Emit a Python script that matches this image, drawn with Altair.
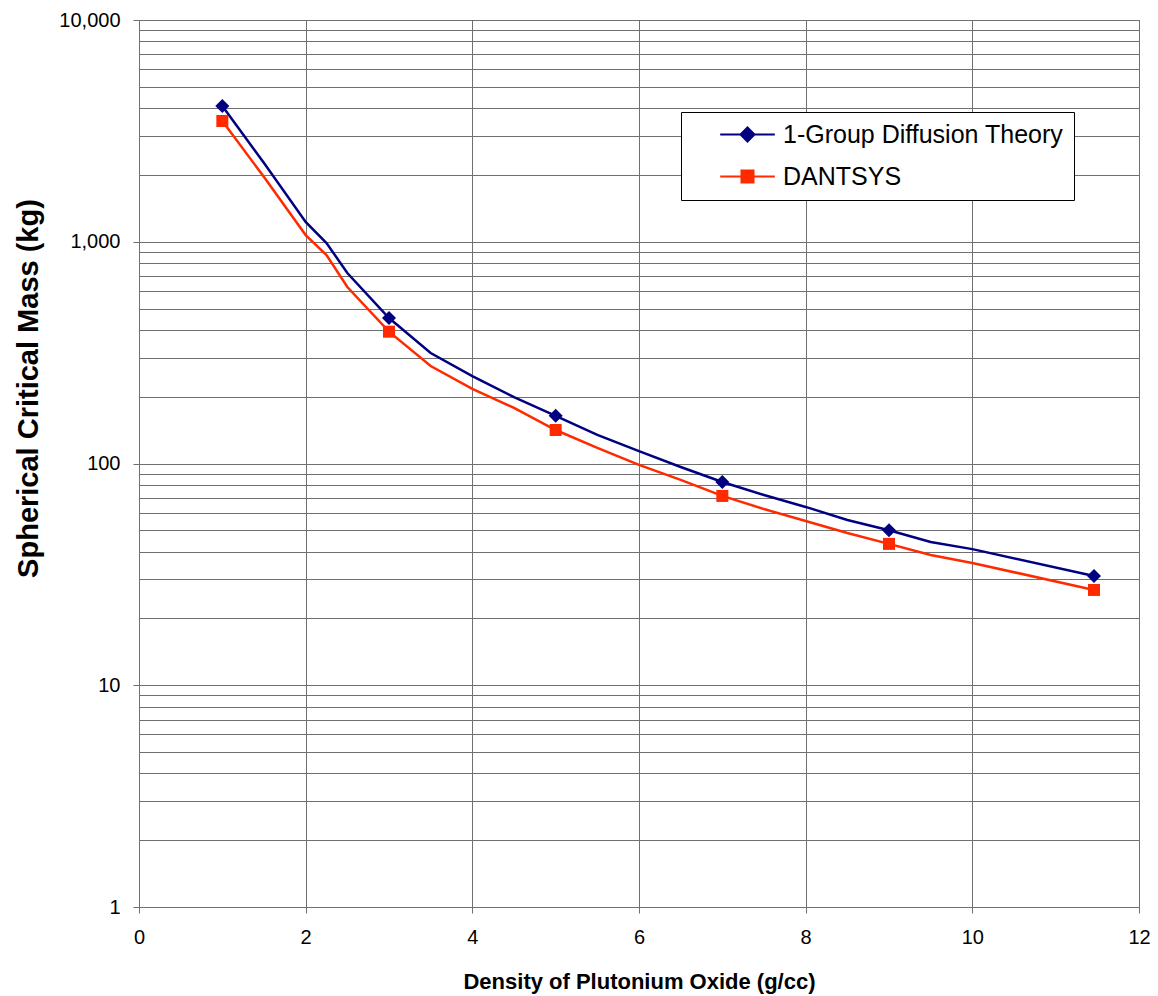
import altair as alt
import pandas as pd

# ---- data ----
series_names = ["1-Group Diffusion Theory", "DANTSYS"]
series_colors = ["#000080", "#ff2a00"]

marker_density = [1, 3, 5, 7, 9, 11.46]
marker_diffusion = [4090, 453, 164, 82.5, 50, 31.1]
marker_dantsys = [3504, 393, 141.6, 71.4, 43.4, 26.9]

line_density = [1, 1.5, 2, 2.25, 2.5, 3, 3.5, 4, 4.5, 5, 5.5, 6, 6.5, 7,
                7.5, 8, 8.5, 9, 9.5, 10, 11.46]
line_diffusion = [4090, 2265, 1228, 987, 723, 453, 315, 248, 199, 164, 134.5,
                  113.8, 96.4, 82.5, 72.1, 63.7, 55.6, 50, 44.3, 41.1, 31.1]
line_dantsys = [3504, 1959, 1072, 871, 625, 393, 275, 217, 178, 141.6, 117.5,
                98.5, 84.3, 71.4, 62.3, 55, 48.6, 43.4, 38.7, 35.6, 26.9]

x_ticks = [0, 2, 4, 6, 8, 10, 12]
y_major = [1, 10, 100, 1000, 10000]
y_grid = [m * 10 ** k for k in range(4) for m in range(1, 10)] + [10000]

FONT = "Liberation Sans"

line_df = pd.DataFrame({
    "density": line_density * 2,
    "mass": line_diffusion + line_dantsys,
    "series": [series_names[0]] * len(line_density) + [series_names[1]] * len(line_density),
})
marker_df = pd.DataFrame({
    "density": marker_density * 2,
    "mass": marker_diffusion + marker_dantsys,
    "series": [series_names[0]] * len(marker_density) + [series_names[1]] * len(marker_density),
})

major_test = f"indexof({y_major}, datum.value) >= 0"

x_enc = alt.X(
    "density:Q",
    scale=alt.Scale(domain=[0, 12], nice=False),
    axis=alt.Axis(
        values=x_ticks, format="d", labelFlush=False, labelFontSize=20,
        labelFont=FONT, labelColor="black", labelPadding=14, tickSize=6,
        tickColor="#707070", domainColor="#707070", grid=True,
        gridColor="#707070", gridWidth=1,
        title="Density of Plutonium Oxide (g/cc)", titleFont=FONT,
        titleFontSize=22, titleFontWeight="bold", titleColor="black",
        titleY=81, titleBaseline="alphabetic",
    ),
)
y_enc = alt.Y(
    "mass:Q",
    scale=alt.Scale(type="log", domain=[1, 10000], nice=False),
    axis=alt.Axis(
        values=y_grid, labelOverlap=False,
        labelExpr=f"{major_test} ? format(datum.value, ',') : ''",
        labelFontSize=20, labelFont=FONT, labelColor="black", labelPadding=13,
        tickSize=6, tickColor="#707070",
        tickOpacity={"condition": {"test": major_test, "value": 1}, "value": 0},
        domainColor="#707070", grid=True, gridColor="#707070", gridWidth=1,
        title="Spherical Critical Mass (kg)", titleFont=FONT, titleFontSize=29,
        titleFontWeight="bold", titleColor="black", titleAngle=270,
        titleX=-102, titleY=368, titleAlign="center", titleBaseline="alphabetic",
    ),
)

blue_path = "M-3.9,0L3.9,0M0,-1L1,0L0,1L-1,0Z"
red_path = "M-3.9,0L3.9,0M-0.86,-0.86L0.86,-0.86L0.86,0.86L-0.86,0.86Z"

legend = alt.Legend(
    title=None, orient="none", legendX=542, legendY=92, padding=10,
    strokeColor="black", fillColor="white", labelFont=FONT, labelFontSize=25,
    labelColor="black", labelLimit=500, labelExpr="datum.label + '    '",
    symbolSize=196, symbolOffset=44, labelOffset=23, rowPadding=16,
    symbolStrokeWidth=2,
)

color_scale = alt.Scale(domain=series_names, range=series_colors)

lines = alt.Chart(line_df).mark_line(strokeWidth=2.5).encode(
    x=x_enc, y=y_enc,
    color=alt.Color("series:N", scale=color_scale, legend=legend),
)

diamonds = alt.Chart(marker_df).transform_filter(
    alt.datum.series == series_names[0]
).mark_point(shape="diamond", filled=True, size=196, opacity=1).encode(
    x="density:Q", y="mass:Q",
    color=alt.Color("series:N", scale=color_scale, legend=legend),
)
squares = alt.Chart(marker_df).transform_filter(
    alt.datum.series == series_names[1]
).mark_point(shape="square", filled=True, size=144, opacity=1).encode(
    x="density:Q", y="mass:Q",
    color=alt.Color("series:N", scale=color_scale, legend=legend),
)

# layer with no drawn marks: gives the legend its line+marker symbols
legend_layer = alt.Chart(marker_df).transform_filter("false").mark_point(
    filled=True, size=196
).encode(
    x="density:Q", y="mass:Q",
    color=alt.Color("series:N", scale=color_scale, legend=legend),
    shape=alt.Shape("series:N", scale=alt.Scale(domain=series_names, range=[blue_path, red_path]), legend=legend),
)

chart = alt.layer(lines, diamonds, squares, legend_layer).properties(
    width=1000, height=887,
    padding={"left": 139, "top": 20, "right": 19, "bottom": 89},
    autosize=alt.AutoSizeParams(type="none"),
    background="white",
).configure_view(stroke="#707070", strokeWidth=1)

chart.save("out.html", embed_options={"renderer": "svg", "actions": False})
